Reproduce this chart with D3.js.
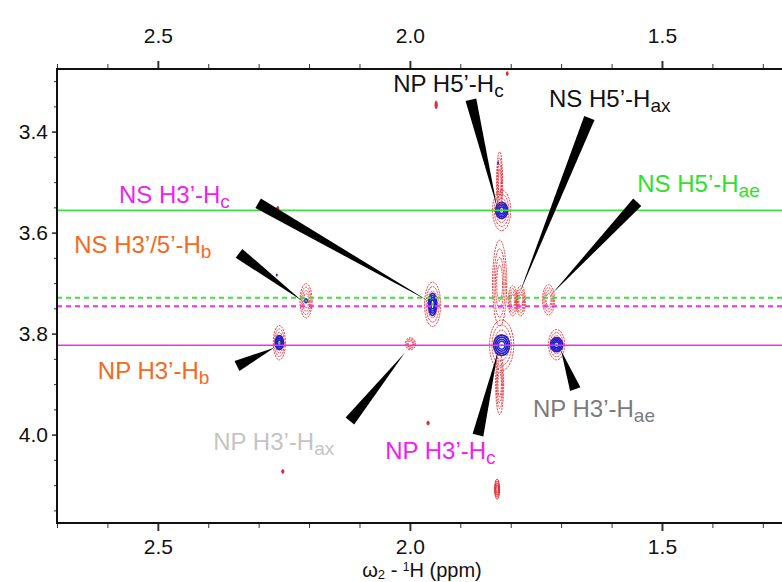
<!DOCTYPE html>
<html>
<head>
<meta charset="utf-8">
<script src="https://cdn.jsdelivr.net/npm/d3@7"></script>
<style>
  body { margin: 0; background: #fff; }
  svg { font-family: "Liberation Sans", Arial, sans-serif; }
</style>
</head>
<body>
<div id="chart"></div>
<script>
// ppm ticks
const xMajorTicks = [2.5, 2.0, 1.5]
const xMinorTicks = [2.7, 2.6, 2.4, 2.3, 2.2, 2.1, 1.9, 1.8, 1.7, 1.6, 1.4, 1.3]
const yMajorTicks = [3.4, 3.6, 3.8, 4.0]
const yMinorTicks = [3.3, 3.35, 3.45, 3.5, 3.55, 3.65, 3.7, 3.75, 3.85, 3.9, 3.95, 4.05, 4.1, 4.15]

// horizontal reference lines (omega1 ppm)
const refLineNames = ['NS H5ae', 'NS H5ae dashed', 'NS H3c dashed', 'NP H3c']
const refLineValues = [3.556, 3.729, 3.746, 3.823]

// cross peaks: omega2, omega1, half widths (ppm), strong = blue core
const peaks = [
	{x: 2.259, y: 3.818, rx: 0.012, ry: 0.034, bx: 0.008, by: 0.014},
	{x: 2.206, y: 3.735, rx: 0.012, ry: 0.034, bx: 0.002, by: 0.004},
	{x: 1.955, y: 3.742, rx: 0.016, ry: 0.044, bx: 0.008, by: 0.022},
	{x: 1.818, y: 3.556, rx: 0.018, ry: 0.040, bx: 0.012, by: 0.016},
	{x: 1.822, y: 3.500, rx: 0.006, ry: 0.060, bx: 0, by: 0},
	{x: 1.822, y: 3.700, rx: 0.014, ry: 0.085, bx: 0, by: 0},
	{x: 1.818, y: 3.823, rx: 0.024, ry: 0.050, bx: 0.016, by: 0.020},
	{x: 1.822, y: 3.900, rx: 0.008, ry: 0.060, bx: 0, by: 0},
	{x: 1.796, y: 3.735, rx: 0.009, ry: 0.030, bx: 0, by: 0},
	{x: 1.780, y: 3.735, rx: 0.009, ry: 0.030, bx: 0, by: 0},
	{x: 1.725, y: 3.733, rx: 0.012, ry: 0.030, bx: 0, by: 0},
	{x: 1.709, y: 3.822, rx: 0.016, ry: 0.030, bx: 0.012, by: 0.014},
	{x: 1.999, y: 3.820, rx: 0.010, ry: 0.012, bx: 0, by: 0},
	{x: 1.827, y: 4.108, rx: 0.005, ry: 0.020, bx: 0, by: 0},
	{x: 1.948, y: 3.347, rx: 0.002, ry: 0.008, bx: 0, by: 0},
	{x: 1.964, y: 3.977, rx: 0.002, ry: 0.004, bx: 0, by: 0},
	{x: 2.252, y: 4.073, rx: 0.002, ry: 0.004, bx: 0, by: 0},
	{x: 2.262, y: 3.552, rx: 0.002, ry: 0.004, bx: 0, by: 0},
	{x: 1.807, y: 3.285, rx: 0.001, ry: 0.004, bx: 0, by: 0}
]
const bluePoints = [[2.264, 3.684], [1.825, 3.462]]

// assignments: label, subscript, label anchor, pointer base, pointer tip (ppm)
const labels = [
	{name: 'NP H5’-H', sub: 'c', lx: 2.033, ly: 3.321, bx: 1.879, by: 3.337, tx: 1.827, ty: 3.550},
	{name: 'NS H5’-H', sub: 'ax', lx: 1.724, ly: 3.351, bx: 1.644, by: 3.373, tx: 1.783, ty: 3.721},
	{name: 'NS H5’-H', sub: 'ae', lx: 1.549, ly: 3.520, bx: 1.549, by: 3.540, tx: 1.718, ty: 3.721},
	{name: 'NS H3’-H', sub: 'c', lx: 2.577, ly: 3.542, bx: 2.301, by: 3.542, tx: 1.964, ty: 3.735},
	{name: 'NS H3’/5’-H', sub: 'b', lx: 2.666, ly: 3.641, bx: 2.339, by: 3.641, tx: 2.214, ty: 3.735},
	{name: 'NP H3’-H', sub: 'b', lx: 2.619, ly: 3.890, bx: 2.343, by: 3.864, tx: 2.269, ty: 3.828},
	{name: 'NP H3’-H', sub: 'ax', lx: 2.390, ly: 4.031, bx: 2.119, by: 3.973, tx: 2.010, ty: 3.838},
	{name: 'NP H3’-H', sub: 'c', lx: 2.049, ly: 4.049, bx: 1.865, by: 4.001, tx: 1.825, ty: 3.834},
	{name: 'NP H3’-H', sub: 'ae', lx: 1.756, ly: 3.965, bx: 1.672, by: 3.910, tx: 1.700, ty: 3.834}
]

const labelColors = ['#111', '#111', '#2fe02f', '#f01ef0', '#f26a22', '#f26a22', '#c4c4c4', '#f01ef0', '#7b7b7b']
const lineColors = ['#3fe03f', '#3fe03f', '#f030f0', '#f030f0']
const lineDash = [null, '5,4', '5,4', null]

const svg = d3.select('#chart')
	.append('svg')
	.attr('width', 782)
	.attr('height', 582)

let xScale = d3.scaleLinear()
	.domain([2.7, 1.25])
	.range([57, 788])

let yScale = d3.scaleLinear()
	.domain([3.276, 4.175])
	.range([69, 523])

// contours
let plot = svg.append('g')

peaks.forEach(function(p){
	let cx = xScale(p.x)
	let cy = yScale(p.y)
	let rx = Math.abs(xScale(p.x + p.rx) - cx)
	let ry = Math.abs(yScale(p.y + p.ry) - cy)
	;[1, 0.8, 0.6, 0.42].forEach(function(k){
		plot.append('ellipse')
		.attr('cx', cx)
		.attr('cy', cy)
		.attr('rx', Math.max(rx * k, 0.6))
		.attr('ry', Math.max(ry * k, 0.8))
		.attr('fill', 'none')
		.attr('stroke', '#e3262b')
		.attr('stroke-width', 0.9)
		.attr('stroke-dasharray', rx > 3 ? '2,1' : null)
	})
	if(p.bx > 0){
		let bx = Math.abs(xScale(p.x + p.bx) - cx)
		let by = Math.abs(yScale(p.y + p.by) - cy)
		;[1, 0.8, 0.6, 0.4].forEach(function(k){
			plot.append('ellipse')
			.attr('cx', cx)
			.attr('cy', cy)
			.attr('rx', bx * k)
			.attr('ry', by * k)
			.attr('fill', 'none')
			.attr('stroke', '#2222cc')
			.attr('stroke-width', 1.6)
		})
		plot.append('circle')
		.attr('cx', cx)
		.attr('cy', cy)
		.attr('r', 1.2)
		.attr('fill', '#3ad13a')
	}
})

plot.selectAll('bluePts')
	.data(bluePoints)
	.enter()
	.append('ellipse')
	.attr('cx', d => xScale(d[0]))
	.attr('cy', d => yScale(d[1]))
	.attr('rx', 1)
	.attr('ry', 1.5)
	.attr('fill', '#3030d0')

// reference lines
svg.selectAll('refLines')
	.data(refLineValues)
	.enter()
	.append('line')
	.attr('x1', 57)
	.attr('x2', 782)
	.attr('y1', d => yScale(d))
	.attr('y2', d => yScale(d))
	.attr('stroke', (d, i) => lineColors[i])
	.attr('stroke-width', (d, i) => lineDash[i] ? 2 : 1.6)
	.attr('stroke-dasharray', (d, i) => lineDash[i])

// pointer wedges
labels.forEach(function(d){
	let bx = xScale(d.bx), by = yScale(d.by)
	let tx = xScale(d.tx), ty = yScale(d.ty)
	let len = Math.hypot(tx - bx, ty - by)
	let nx = -(ty - by) / len * 5.5
	let ny = (tx - bx) / len * 5.5
	svg.append('path')
	.attr('d', d3.line()([[bx + nx, by + ny], [bx - nx, by - ny], [tx, ty]]) + 'Z')
	.attr('fill', '#000')
})

// labels
labels.forEach(function(d, i){
	let t = svg.append('text')
	.attr('x', xScale(d.lx))
	.attr('y', yScale(d.ly))
	.attr('fill', labelColors[i])
	.style('font-size', '24px')
	t.append('tspan').text(d.name)
	t.append('tspan')
	.attr('dy', 5)
	.style('font-size', '19px')
	.text(d.sub)
})

// axes
let axisFont = function(g){
	g.selectAll('text').style('font-size', '21px').attr('fill', '#111')
	g.selectAll('line').attr('stroke', '#333')
	g.select('.domain').remove()
}

svg.append('g')
	.attr('transform', 'translate(0,69)')
	.call(d3.axisTop(xScale).tickValues(xMinorTicks).tickSize(5).tickFormat(''))
	.call(axisFont)
svg.append('g')
	.attr('transform', 'translate(0,69)')
	.call(d3.axisTop(xScale).tickValues(xMajorTicks).tickSize(8).tickPadding(18).tickFormat(d3.format('.1f')))
	.call(axisFont)
	.selectAll('line').attr('stroke-width', 2)

svg.append('g')
	.attr('transform', 'translate(0,523)')
	.call(d3.axisBottom(xScale).tickValues(xMinorTicks).tickSize(5).tickFormat(''))
	.call(axisFont)
svg.append('g')
	.attr('transform', 'translate(0,523)')
	.call(d3.axisBottom(xScale).tickValues(xMajorTicks).tickSize(8).tickPadding(8).tickFormat(d3.format('.1f')))
	.call(axisFont)
	.selectAll('line').attr('stroke-width', 2)

svg.append('g')
	.attr('transform', 'translate(57,0)')
	.call(d3.axisLeft(yScale).tickValues(yMinorTicks).tickSize(3).tickFormat(''))
	.call(axisFont)
svg.append('g')
	.attr('transform', 'translate(57,0)')
	.call(d3.axisLeft(yScale).tickValues(yMajorTicks).tickSize(5).tickPadding(4).tickFormat(d3.format('.1f')))
	.call(axisFont)
	.selectAll('line').attr('stroke-width', 1.6)

// frame
svg.append('path')
	.attr('d', d3.line()([[782, 69], [57, 69], [57, 523], [782, 523]]))
	.attr('fill', 'none')
	.attr('stroke', '#111')
	.attr('stroke-width', 2)

// axis title
let title = svg.append('text')
	.attr('x', 422)
	.attr('y', 577)
	.attr('text-anchor', 'middle')
	.attr('fill', '#111')
	.style('font-size', '20px')
title.append('tspan').text('ω')
title.append('tspan').attr('dy', 2).style('font-size', '13px').text('2')
title.append('tspan').attr('dy', -2).text(' - ')
title.append('tspan').attr('dy', -6).style('font-size', '12px').text('1')
title.append('tspan').attr('dy', 6).text('H  (ppm)')
</script>
</body>
</html>
